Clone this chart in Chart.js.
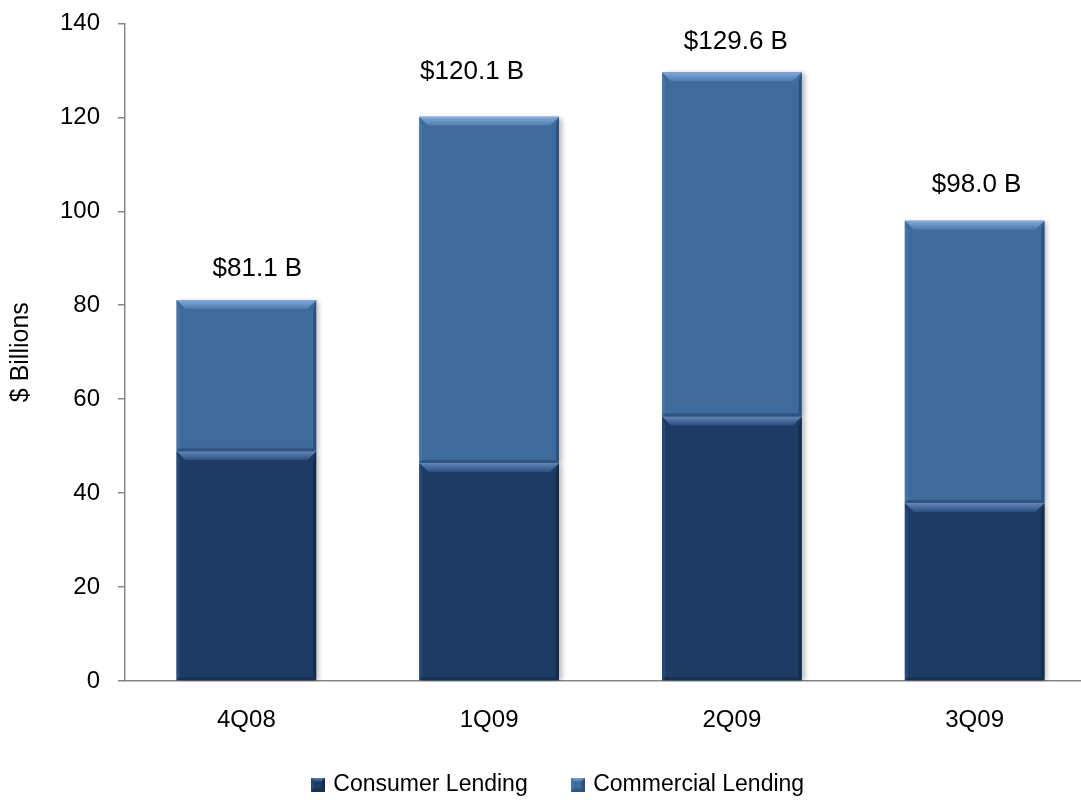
<!DOCTYPE html>
<html><head><meta charset="utf-8">
<script src="https://cdn.jsdelivr.net/npm/chart.js@4.4.0/dist/chart.umd.min.js"></script>
<style>html,body{margin:0;padding:0;background:#fff;overflow:hidden;width:1081px;height:800px;} #wrap{width:1096px;height:809px;position:absolute;left:0;top:-9px;}</style>
</head><body><div id="wrap"><canvas id="c"></canvas></div>
<script>
const categories = ['4Q08', '1Q09', '2Q09', '3Q09'];
const consumerLending = [48.9, 46.4, 56.3, 37.9];
const commercialLending = [32.2, 73.7, 73.3, 60.1];
const totals = [81.1, 120.1, 129.6, 98.0];
const seriesNames = ['Consumer Lending', 'Commercial Lending'];
const yTitle = '$ Billions';

const FONT = '"Liberation Sans", Arial, sans-serif';
const palette = {
  consumer: {main:'#1E3B64', hi:'#6287B8', lo:'#2A4E80', left:'#26487A', right:'#142B4B', bottom:'#16304F'},
  commercial: {main:'#3E6A9C', hi:'#86ABDA', lo:'#4D78AC', left:'#4874A6', right:'#2C5080', bottom:'#2E5482'}
};

function bevel(ctx, pal, l, r, t, b, bv, side) {
  ctx.save();
  ctx.fillStyle = pal.left;
  ctx.beginPath(); ctx.moveTo(l, t); ctx.lineTo(l + side, t + bv); ctx.lineTo(l + side, b - side); ctx.lineTo(l, b); ctx.closePath(); ctx.fill();
  ctx.fillStyle = pal.right;
  ctx.beginPath(); ctx.moveTo(r, t); ctx.lineTo(r - side, t + bv); ctx.lineTo(r - side, b - side); ctx.lineTo(r, b); ctx.closePath(); ctx.fill();
  ctx.fillStyle = pal.bottom;
  ctx.beginPath(); ctx.moveTo(l, b); ctx.lineTo(l + side, b - side); ctx.lineTo(r - side, b - side); ctx.lineTo(r, b); ctx.closePath(); ctx.fill();
  const g = ctx.createLinearGradient(0, t, 0, t + bv);
  g.addColorStop(0, pal.hi); g.addColorStop(1, pal.lo);
  ctx.fillStyle = g;
  ctx.beginPath(); ctx.moveTo(l, t); ctx.lineTo(r, t); ctx.lineTo(r - bv, t + bv); ctx.lineTo(l + bv, t + bv); ctx.closePath(); ctx.fill();
  ctx.restore();
}

function legendIcon(pal) {
  const c = document.createElement('canvas');
  c.width = 14; c.height = 14;
  const x = c.getContext('2d');
  x.fillStyle = pal.main; x.fillRect(0, 0, 14, 14);
  bevel(x, pal, 0, 14, 0, 14, 4, 3);
  return c;
}

const shadowPlugin = {
  id: 'shadow',
  afterLayout(chart) {
    const lg = chart.legend;
    if (lg) { lg.top -= 10; lg.left += 11; lg.right += 11; }
  },
  beforeDatasetsDraw(chart) {
    const ctx = chart.ctx;
    ctx.save();
    ctx.shadowColor = 'rgba(0,0,0,0.28)';
    ctx.shadowBlur = 5;
    ctx.shadowOffsetX = 3;
    ctx.shadowOffsetY = 1;
  },
  afterDatasetsDraw(chart) {
    chart.ctx.restore();
    const ctx = chart.ctx;
    chart.data.datasets.forEach((ds, di) => {
      const pal = di === 0 ? palette.consumer : palette.commercial;
      const meta = chart.getDatasetMeta(di);
      meta.data.forEach(el => {
        const p = el.getProps(['x', 'y', 'base', 'width'], true);
        const l = p.x - p.width / 2, r = p.x + p.width / 2;
        const t = Math.min(p.y, p.base), b = Math.max(p.y, p.base);
        bevel(ctx, pal, l, r, t, b, 9, 3);
      });
    });
    const topMeta = chart.getDatasetMeta(chart.data.datasets.length - 1);
    const opt = chart.options.plugins.totalLabels;
    ctx.save();
    ctx.font = '26px ' + FONT;
    ctx.fillStyle = '#000';
    ctx.textAlign = 'center';
    ctx.textBaseline = 'middle';
    topMeta.data.forEach((el, i) => {
      ctx.fillText('$' + totals[i].toFixed(1) + ' B', el.x + opt.dx[i], el.y - opt.dy[i]);
    });
    ctx.restore();
  }
};

new Chart(document.getElementById('c'), {
  type: 'bar',
  data: {
    labels: categories,
    datasets: [
      {label: seriesNames[0], data: consumerLending, backgroundColor: palette.consumer.main, pointStyle: legendIcon(palette.consumer), borderWidth: 0, categoryPercentage: 1, barPercentage: 0.575},
      {label: seriesNames[1], data: commercialLending, backgroundColor: palette.commercial.main, pointStyle: legendIcon(palette.commercial), borderWidth: 0, categoryPercentage: 1, barPercentage: 0.575}
    ]
  },
  options: {
    responsive: true,
    maintainAspectRatio: false,
    animation: false,
    layout: {padding: {top: 0, right: 0, bottom: 0, left: 0}},
    plugins: {
      legend: {
        position: 'bottom',
        maxHeight: 63,
        labels: {font: {family: FONT, size: 23}, color: '#000', usePointStyle: true, boxWidth: 8, boxHeight: 14, padding: 46}
      },
      tooltip: {enabled: false},
      totalLabels: {dx: [11, -17, 4, 2], dy: [31, 45, 30, 36]}
    },
    scales: {
      x: {
        stacked: true,
        grid: {display: false},
        border: {display: true, color: '#868686', width: 1.5},
        ticks: {font: {family: FONT, size: 24}, color: '#000', padding: 17},
        afterFit(scale) { scale.height = 56; }
      },
      y: {
        stacked: true,
        min: 0, max: 140,
        ticks: {stepSize: 20, font: {family: FONT, size: 24}, color: '#000', padding: 18},
        grid: {drawOnChartArea: false, drawTicks: true, tickLength: 7, color: '#868686', lineWidth: 1.5},
        border: {display: true, color: '#868686', width: 1.5},
        title: {display: true, text: yTitle, font: {family: FONT, size: 25}, color: '#000', padding: {top: 6, bottom: 0}},
        afterFit(scale) { scale.width = 125; }
      }
    }
  },
  plugins: [shadowPlugin]
});
</script>
</body></html>
